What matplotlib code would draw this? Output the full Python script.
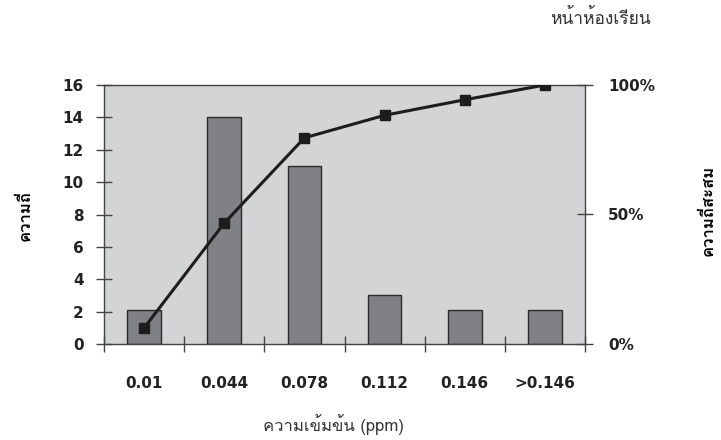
import matplotlib
matplotlib.use("Agg")
import matplotlib.pyplot as plt
from matplotlib import font_manager
from fontTools.ttLib import TTFont

# frequency of each concentration class (ppm) and its running total
categories = ["0.01", "0.044", "0.078", "0.112", "0.146", ">0.146"]
frequency = [2.1, 14, 11, 3, 2.1, 2.1]
cumulative_pct = [6.2, 46.7, 79.6, 88.3, 94.3, 100]
pct_ticks = [0, 50, 100]

title = "หน้าห้องเรียน"
xlabel = "ความเข้มข้น (ppm)"
ylabel_left = "ความถี่"
ylabel_right = "ความถี่สะสม"


def thai_family():
    # first installed font that has Thai glyphs
    for path in sorted(font_manager.findSystemFonts()):
        try:
            cmap = TTFont(path, fontNumber=0, lazy=True).getBestCmap()
            if cmap and 0x0E04 in cmap and 0x0E35 in cmap:
                return font_manager.FontProperties(fname=path).get_name()
        except Exception:
            pass
    return "DejaVu Sans"


thai = [thai_family(), "DejaVu Sans"]
num_font = "DejaVu Sans"
num_size = 11

fig = plt.figure(figsize=(7.21, 4.40), dpi=100)
ax = fig.add_axes([104 / 721, 1 - 344 / 440, 481 / 721, 259 / 440])
ax.set_facecolor("#d3d4d6")

x = list(range(len(categories)))
ax.bar(x, frequency, width=0.42, color="#808184", edgecolor="#2b2b2b", linewidth=1.0, zorder=2)
ax.set_xlim(-0.5, len(categories) - 0.5)
ax.set_ylim(0, 16)
ax.set_yticks(range(0, 17, 2))

# class boundaries get the tick marks, labels sit under each bar
ax.set_xticks([i - 0.5 for i in range(len(categories) + 1)])
ax.set_xticklabels([])
ax.set_xticks(x, minor=True)
ax.set_xticklabels(categories, minor=True, fontsize=num_size, fontweight="bold", family=num_font,
                   color="#222222")
ax.tick_params(axis="x", which="major", direction="inout", length=11, width=1, color="#444444")
ax.tick_params(axis="x", which="minor", length=0, pad=23)
ax.tick_params(axis="y", direction="inout", length=11.5, width=1, color="#444444", pad=9)
for lab in ax.get_yticklabels():
    lab.set_fontsize(num_size)
    lab.set_fontweight("bold")
    lab.set_family(num_font)
    lab.set_color("#222222")

for side in ["left", "bottom", "top", "right"]:
    ax.spines[side].set_color("#444444")
    ax.spines[side].set_linewidth(1.0)

ax2 = ax.twinx()
ax2.plot(x, cumulative_pct, color="#1e1c1c", linewidth=2.2, marker="s", markersize=7.5,
         markerfacecolor="#1e1c1c", markeredgecolor="#1e1c1c", zorder=3)
ax2.set_ylim(0, 100)
ax2.set_yticks(pct_ticks)
ax2.set_yticklabels([f"{p}%" for p in pct_ticks], fontsize=num_size, fontweight="bold",
                    family=num_font, color="#222222")
ax2.tick_params(axis="y", direction="inout", length=11.5, width=1, color="#444444", pad=11)
for side in ["left", "bottom", "top", "right"]:
    ax2.spines[side].set_visible(False)

fig.text(25 / 721, 1 - 215 / 440, ylabel_left, rotation=90, ha="center", va="center",
         fontsize=12, fontweight="bold", family=thai)
fig.text(708 / 721, 1 - 210 / 440, ylabel_right, rotation=90, ha="center", va="center",
         fontsize=12, fontweight="bold", family=thai)
fig.text(333 / 721, 1 - 425 / 440, xlabel, ha="center", va="center", fontsize=12, family=thai,
         color="#333333")
fig.text(600 / 721, 1 - 18 / 440, title, ha="center", va="center", fontsize=12.5, family=thai,
         color="#333333")

fig.savefig("out.png", dpi=100)
